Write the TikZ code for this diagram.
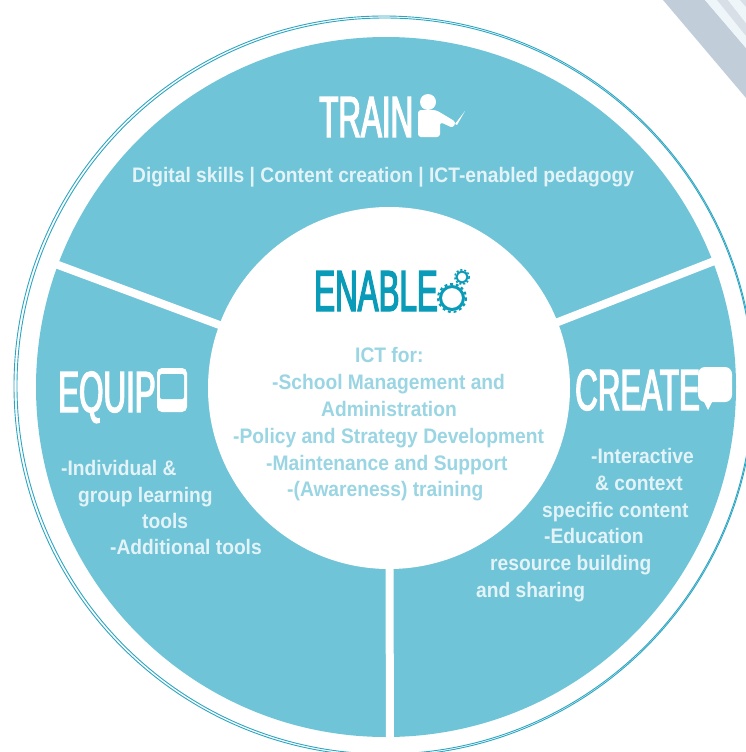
\documentclass[tikz,border=0pt]{standalone}
\usepackage{fontspec}
\usepackage{xcolor}
\newfontfamily\headfont[FakeStretch=0.54,FakeBold=2.2]{Liberation Sans}
\newfontfamily\bodyfont[FakeStretch=0.915]{Liberation Sans}
\definecolor{wheelblue}{HTML}{6FC4D7}
\definecolor{ringblue}{HTML}{2BA5C2}
\definecolor{enableblue}{HTML}{0A9BB8}
\definecolor{centretext}{HTML}{9AD5E3}
\definecolor{paletext}{HTML}{E3F3F7}
\definecolor{stripeblue}{HTML}{C1CEDA}
\definecolor{stripegrey}{HTML}{D9DFE6}
\definecolor{stripepale}{HTML}{EEF6FA}
\tikzset{
  headlabel/.style={anchor=base west, inner sep=0pt, text=white, font=\headfont\fontsize{58}{60}\selectfont},
  bodylabel/.style={anchor=base west, inner sep=0pt, text=paletext, font=\bodyfont\bfseries\fontsize{21}{25}\selectfont},
  centrelabel/.style={bodylabel, text=centretext},
  spoke/.style={white, line width=8pt},
  ringline/.style={ringblue, line width=0.9pt}
}
\begin{document}
\begin{tikzpicture}[x=1pt, y=-1pt]
\useasboundingbox (0,0) rectangle (746,752);
\clip (0,0) rectangle (746,752);
%==================== Corner stripes ==================
\fill[stripeblue] (663,0) -- (705,0) -- (746,48) -- (746,98) -- cycle;
\fill[stripepale] (705,0) -- (717,0) -- (746,36) -- (746,48) -- cycle;
\fill[stripegrey] (717,0) -- (728,0) -- (746,23) -- (746,36) -- cycle;
\fill[stripepale] (728,0) -- (746,0) -- (746,23) -- cycle;
\fill[stripegrey] (740,0) -- (746,0) -- (746,7) -- cycle;
%==================== Outer ring ==================
\draw[ringline] (384,386) circle (370);
\draw[ringline] (385,386) circle (368);
%==================== Wheel ==================
\fill[wheelblue] (386,387) circle (350);
\coordinate (spokeL) at (50,262);
\coordinate (spokeR) at (722,258);
\coordinate (spokeB) at (390,745);
\coordinate (hub) at (389,388);
\draw[spoke] (spokeL) -- (hub);
\draw[spoke] (spokeR) -- (hub);
\draw[spoke] (spokeB) -- (hub);
\fill[white] (hub) circle (181);
%==================== Train ==================
\node[headlabel] (train) at (319,137) {TRAIN};
\fill[white] (428,102) circle (8);
\fill[white, rounded corners=3pt] (418,137) -- (418,110) -- (436,110) -- (456,122) -- (453,128) -- (440,122) -- (440,137) -- cycle;
\fill[white] (455,124) -- (465,111) -- (457,125) -- cycle;
\node[bodylabel] (skills) at (132,182) {Digital skills | Content creation | ICT-enabled pedagogy};
%==================== Enable ==================
\node[headlabel, text=enableblue] (enable) at (314,311) {ENABLE};
\draw[enableblue, line width=3pt] (452,298) circle (11.5);
\draw[enableblue, line width=2pt, dash pattern=on 2.9pt off 2.9pt] (452,298) circle (14);
\draw[enableblue, line width=2pt] (462,277) circle (5.5);
\draw[enableblue, line width=1.5pt, dash pattern=on 2pt off 2pt] (462,277) circle (7.2);
\node[centrelabel] (ict) at (355,362) {ICT for:};
\node[centrelabel] (school) at (272,389) {-School Management and};
\node[centrelabel] (admin) at (321,416) {Administration};
\node[centrelabel] (policy) at (233,443) {-Policy and Strategy Development};
\node[centrelabel] (maint) at (266,470) {-Maintenance and Support};
\node[centrelabel] (aware) at (287,496) {-(Awareness) training};
%==================== Equip ==================
\node[headlabel] (equip) at (58,412) {EQUIP};
\fill[white, rounded corners=5pt] (157,368) rectangle (187,412);
\fill[wheelblue, rounded corners=2pt] (160,374) rectangle (184,399);
\node[bodylabel] (indiv) at (61,475) {-Individual \&};
\node[bodylabel] (group) at (78,502) {group learning};
\node[bodylabel] (tools) at (142,528) {tools};
\node[bodylabel] (extra) at (110,554) {-Additional tools};
%==================== Create ==================
\node[headlabel] (create) at (575,410) {CREATE};
\fill[white, rounded corners=7pt] (698,367) rectangle (732,402);
\fill[white] (703,400) -- (708,410) -- (713,400) -- cycle;
\node[bodylabel] (inter) at (591,463) {-Interactive};
\node[bodylabel] (context) at (595,490) {\& context};
\node[bodylabel] (specific) at (542,517) {specific content};
\node[bodylabel] (edu) at (544,543) {-Education};
\node[bodylabel] (resource) at (490,570) {resource building};
\node[bodylabel] (sharing) at (476,597) {and sharing};
\end{tikzpicture}
\end{document}
